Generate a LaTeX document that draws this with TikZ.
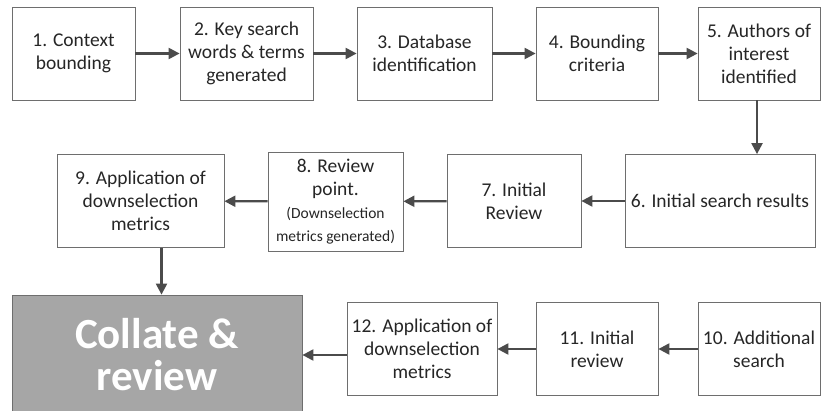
\documentclass[tikz,border=0pt]{standalone}
\usepackage{fontspec}
\setmainfont{Carlito}
\usepackage{xcolor}
\usetikzlibrary{arrows.meta, positioning}
\definecolor{edgegrey}{RGB}{110,110,110}
\definecolor{arrowgrey}{RGB}{75,75,75}
\definecolor{collfill}{RGB}{166,166,166}

\begin{document}
\begin{tikzpicture}[x=1pt, y=-1pt,
    every node/.style={align=center, font=\fontsize{19.5}{23}\selectfont, text=black!85},
    box/.style={draw=edgegrey, line width=0.8pt, fill=white, minimum height=93pt, inner sep=1pt},
    big/.style={draw=edgegrey, line width=0.8pt, fill=collfill, text=white,
                font=\fontsize{43}{42}\selectfont\bfseries},
    arr/.style={-{Triangle[length=11pt, width=11pt]}, draw=arrowgrey, line width=2.2pt}
  ]
    \useasboundingbox (0,0) rectangle (821,410);

    % top row, left to right
    \node[box, minimum width=123pt] (ctx)  at (73.5,53.5)  {1. Context\\ bounding};
    \node[box, minimum width=133pt] (keys) at (246.5,53.5) {2. Key search\\ words \& terms\\ generated};
    \node[box, minimum width=135pt] (db)   at (424.5,53.5) {3. Database\\ identification};
    \node[box, minimum width=122pt] (crit) at (597,53.5)   {4. Bounding\\ criteria};
    \node[box, minimum width=122pt] (auth) at (759,53.5)   {5. Authors of\\ interest\\ identified};

    % middle row, right to left
    \node[box, minimum width=190pt] (res)  at (720,201)    {6. Initial search results};
    \node[box, minimum width=134pt] (irev) at (514,201)    {7. Initial\\ Review};
    \node[box, minimum width=135pt, minimum height=99pt] (rpt) at (335.5,201.5)
        {8. Review\\ point.\\ \fontsize{15.5}{23}\selectfont (Downselection\\
         \fontsize{15.5}{23}\selectfont metrics generated)};
    \node[box, minimum width=167pt] (app)  at (140.5,201)  {9. Application of\\ downselection\\ metrics};

    % bottom row
    \node[big, minimum width=290pt, minimum height=120pt] (coll) at (157,355) {Collate \&\\ review};
    \node[box, minimum width=150pt] (app2)  at (422,349)   {12. Application of\\ downselection\\ metrics};
    \node[box, minimum width=122pt] (irev2) at (597,349)   {11. Initial\\ review};
    \node[box, minimum width=122pt] (add)   at (759,349)   {10. Additional\\ search};

    \draw[arr] (ctx)  -- (keys);
    \draw[arr] (keys) -- (db);
    \draw[arr] (db)   -- (crit);
    \draw[arr] (crit) -- (auth);
    \draw[arr] ([xshift=-2pt]auth.south) -- ([xshift=-2pt]auth.south |- res.north);
    \draw[arr] (res)  -- (irev);
    \draw[arr] (irev) -- (rpt);
    \draw[arr] (rpt)  -- (app);
    \draw[arr] ([xshift=21pt]app.south) -- ([xshift=21pt]app.south |- coll.north);
    \draw[arr] (add)   -- (irev2);
    \draw[arr] (irev2) -- (app2);
    \draw[arr] (app2.west |- coll.east) -- (coll.east);
  \end{tikzpicture}
\end{document}
